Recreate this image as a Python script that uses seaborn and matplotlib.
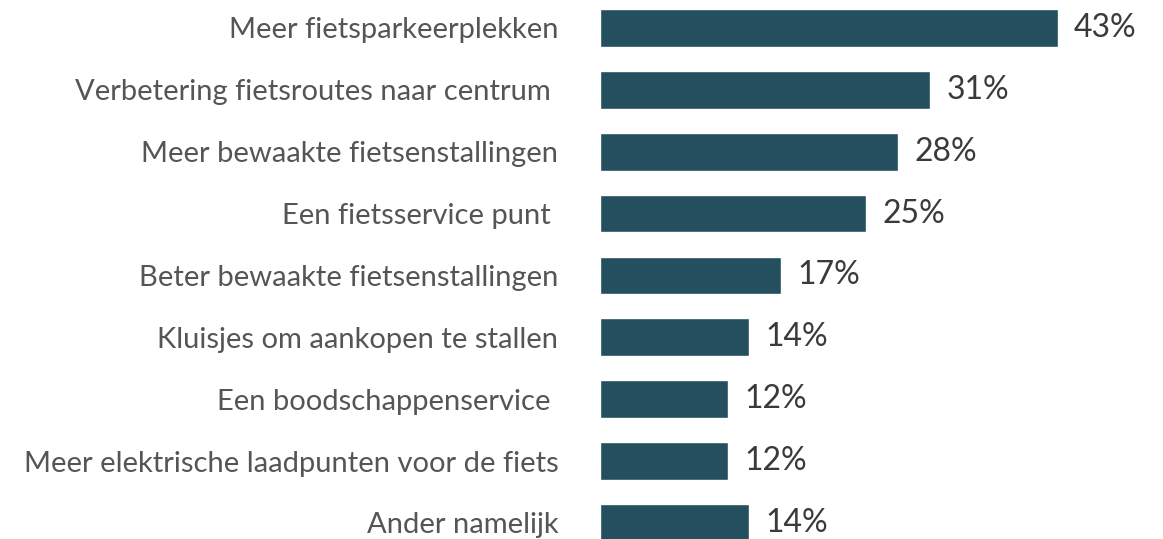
import matplotlib
matplotlib.use("Agg")
import matplotlib.pyplot as plt
import seaborn as sns
import pandas as pd

categories = [
    "Meer fietsparkeerplekken",
    "Verbetering fietsroutes naar centrum ",
    "Meer bewaakte fietsenstallingen",
    "Een fietsservice punt ",
    "Beter bewaakte fietsenstallingen",
    "Kluisjes om aankopen te stallen",
    "Een boodschappenservice ",
    "Meer elektrische laadpunten voor de fiets",
    "Ander namelijk",
]
percentages = [43, 31, 28, 25, 17, 14, 12, 12, 14]

df = pd.DataFrame({"categorie": categories, "pct": percentages})

sns.set_style("white")
plt.rcParams["font.family"] = ["Lato", "DejaVu Sans"]

fig = plt.figure(figsize=(11.63, 5.39), dpi=100)
ax = fig.add_axes([0.516, 0.0, 0.458, 1.0])

sns.barplot(data=df, x="pct", y="categorie", orient="h", color="#234f5e",
            saturation=1, width=0.61, ax=ax)

for i, v in enumerate(percentages):
    ax.text(v + 1.5, i, f"{v}%", va="center", ha="left",
            fontsize=23, color="#3a3a3a")

ax.set_xlim(0, 50)
ax.set_ylim(8.259, -0.4525)
ax.set_xlabel("")
ax.set_ylabel("")
ax.set_xticks([])
ax.tick_params(axis="y", length=0, pad=30, labelsize=21, labelcolor="#555555")
sns.despine(ax=ax, left=True, bottom=True)

fig.savefig("out.png", dpi=100)
